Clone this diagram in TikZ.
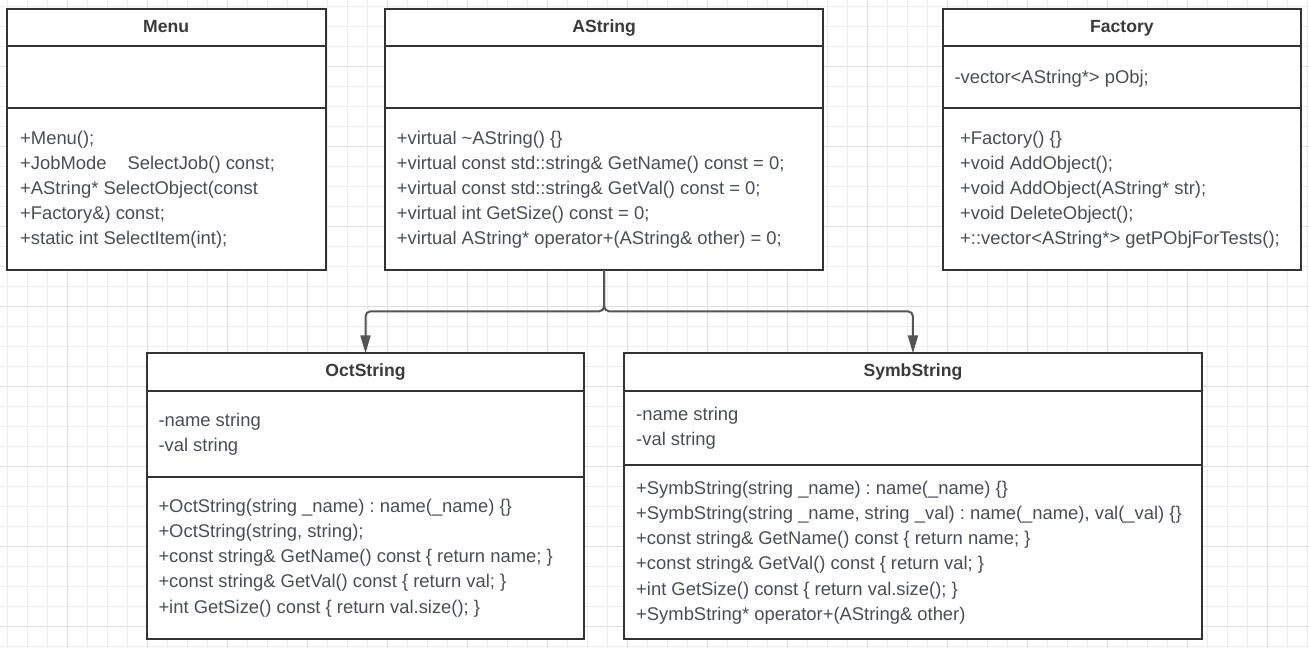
\documentclass[tikz,border=0pt]{standalone}
\usepackage{fontspec}
\setmainfont{Liberation Sans}
\usetikzlibrary{arrows.meta}
\frenchspacing
\definecolor{gridminor}{HTML}{EEEEEE}
\definecolor{gridmajor}{HTML}{DFDFDF}
\definecolor{boxcol}{HTML}{333333}
\definecolor{txtcol}{HTML}{4A4D52}
\definecolor{titlecol}{HTML}{3A3A3A}
\definecolor{conncol}{HTML}{555555}
\newcommand{\umltxt}[1]{\vtop{\baselineskip=25.2pt\lineskiplimit=-100pt\lineskip=0pt\halign{##\hfil\cr#1\crcr}}}
\tikzset{
  classbox/.style={draw=boxcol, line width=2pt, fill=white, rectangle, inner sep=0pt, outer sep=0pt, anchor=north west},
  divider/.style={draw=boxcol, line width=2pt},
  ctitle/.style={anchor=base, inner sep=0pt, text=titlecol, font=\bfseries\fontsize{17.6}{20}\selectfont},
  cbody/.style={anchor=base west, inner sep=0pt, text=txtcol, font=\fontsize{18.4}{25.2}\selectfont\frenchspacing},
  conn/.style={draw=conncol, line width=2pt, rounded corners=5pt, -{Triangle[length=18pt,width=10pt]}},
  gminor/.style={draw=gridminor, line width=1pt},
  gmajor/.style={draw=gridmajor, line width=1pt},
}
\begin{document}
\begin{tikzpicture}[x=1pt,y=-1pt]
\useasboundingbox (0,0) rectangle (1309,648);
\fill[white] (0,0) rectangle (1309,648);
% grid
\foreach \i in {0,...,65} {\draw[gminor] (7.3+20*\i,0) -- (7.3+20*\i,648);}
\foreach \i in {0,...,32} {\draw[gminor] (0,6+20*\i) -- (1309,6+20*\i);}
\foreach \i in {0,...,15} {\draw[gmajor] (67.3+80*\i,0) -- (67.3+80*\i,648);}
\foreach \i in {0,...,7} {\draw[gmajor] (0,66+80*\i) -- (1309,66+80*\i);}

% boxes
\node[classbox, minimum width=319pt, minimum height=261pt] (menu) at (6.7,9) {};
\node[classbox, minimum width=438.3pt, minimum height=261pt] (astring) at (385,9) {};
\node[classbox, minimum width=358.3pt, minimum height=261pt] (factory) at (942.7,9) {};
\node[classbox, minimum width=437.6pt, minimum height=285.7pt] (oct) at (146.7,353.3) {};
\node[classbox, minimum width=577.5pt, minimum height=286pt] (symb) at (624.2,353.3) {};

% dividers
\foreach \b in {menu,astring,factory} {
  \draw[divider] (\b.west |- 0,46) -- (\b.east |- 0,46);
  \draw[divider] (\b.west |- 0,107.7) -- (\b.east |- 0,107.7);
}
\draw[divider] (oct.west |- 0,391) -- (oct.east |- 0,391);
\draw[divider] (oct.west |- 0,477) -- (oct.east |- 0,477);
\draw[divider] (symb.west |- 0,391) -- (symb.east |- 0,391);
\draw[divider] (symb.west |- 0,465.3) -- (symb.east |- 0,465.3);

% titles
\node[ctitle] (menut) at (menu.center |- 0,32.3) {Menu};
\node[ctitle] (astringt) at (astring.center |- 0,32.3) {AString};
\node[ctitle] (factoryt) at (factory.center |- 0,32.3) {Factory};
\node[ctitle] (octt) at (oct.center |- 0,376.5) {OctString};
\node[ctitle] (symbt) at (symb.center |- 0,376.5) {SymbString};

% bodies
\node[cbody] (menum) at (20,144) {\umltxt{+Menu();\cr
+JobMode\hspace{21pt}SelectJob() const;\cr
+AString* SelectObject(const\cr
+Factory\&) const;\cr
+static int SelectItem(int);}};

\node[cbody] (astringm) at (396.6,144) {\umltxt{+virtual \textasciitilde AString() \{\}\cr
+virtual const std::string\& GetName() const = 0;\cr
+virtual const std::string\& GetVal() const = 0;\cr
+virtual int GetSize() const = 0;\cr
+virtual AString* operator+(AString\& other) = 0;}};

\node[cbody] (factorya) at (954.3,83.5) {\umltxt{-vector<AString*> pObj;}};
\node[cbody] (factorym) at (960,144) {\umltxt{+Factory() \{\}\cr
+void AddObject();\cr
+void AddObject(AString* str);\cr
+void DeleteObject();\cr
+::vector<AString*> getPObjForTests();}};

\node[cbody] (octa) at (158.3,426.5) {\umltxt{-name string\cr
-val string}};
\node[cbody] (octm) at (158.3,512.2) {\umltxt{+OctString(string \_name) : name(\_name) \{\}\cr
+OctString(string, string);\cr
+const string\& GetName() const \{ return name; \}\cr
+const string\& GetVal() const \{ return val; \}\cr
+int GetSize() const \{ return val.size(); \}}};

\node[cbody] (symba) at (636,420) {\umltxt{-name string\cr
-val string}};
\node[cbody] (symbm) at (636,494.2) {\umltxt{+SymbString(string \_name) : name(\_name) \{\}\cr
+SymbString(string \_name, string \_val) : name(\_name), val(\_val) \{\}\cr
+const string\& GetName() const \{ return name; \}\cr
+const string\& GetVal() const \{ return val; \}\cr
+int GetSize() const \{ return val.size(); \}\cr
+SymbString* operator+(AString\& other)}};

% connectors
\draw[conn] (astring.south) -- (astring.south |- 0,311.3) -| (oct.north);
\draw[conn] (astring.south) -- (astring.south |- 0,311.3) -| (symb.north);
\end{tikzpicture}
\end{document}
